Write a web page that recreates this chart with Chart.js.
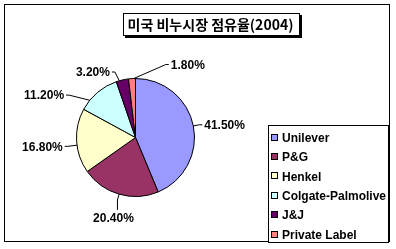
<!DOCTYPE html>
<html>
<head>
<meta charset="utf-8">
<script src="https://cdn.jsdelivr.net/npm/chart.js@4.4.1/dist/chart.umd.min.js"></script>
<style>
html,body{margin:0;padding:0;background:#fff;}
#wrap{position:relative;width:396px;height:249px;}
canvas{display:block;}
</style>
</head>
<body>
<div id="wrap"><canvas id="c" width="396" height="249"></canvas></div>
<script>
// ---- data ----
const chartTitle = '미국 비누시장 점유율(2004)';
const categories = ['Unilever', 'P&G', 'Henkel', 'Colgate-Palmolive', 'J&J', 'Private Label'];
const shares = [41.5, 20.4, 16.8, 11.2, 3.2, 1.8];
const sliceColors = ['#9999FF', '#993366', '#FFFFCC', '#CCFFFF', '#660066', '#FF8080'];

const LABEL_FONT = 'bold 12px "Liberation Sans", Arial, sans-serif';
const LEGEND_FONT = 'bold 12px "Liberation Sans", Arial, sans-serif';
const TITLE_FONT = 'bold 14px "Noto Sans CJK KR", sans-serif';

const decor = {
  id: 'decor',
  beforeDraw(chart) {
    const ctx = chart.ctx;
    ctx.save();
    ctx.fillStyle = '#fff';
    ctx.fillRect(0, 0, chart.width, chart.height);
    ctx.strokeStyle = '#000';
    ctx.lineWidth = 1;
    ctx.strokeRect(4.5, 4.5, 385, 237);
    ctx.restore();
  },
  afterDraw(chart) {
    const ctx = chart.ctx;
    ctx.save();
    // title with boxed shadow
    ctx.font = TITLE_FONT;
    const tw = ctx.measureText(chartTitle).width;
    const tcx = 210.5, tcy = 24;
    const bx = Math.round(tcx - tw / 2 - 5), by = 13, bw = Math.round(tw + 10), bh = 22;
    ctx.fillStyle = '#000';
    ctx.fillRect(bx + 2, by + 2, bw + 1, bh + 1);
    ctx.fillStyle = '#fff';
    ctx.fillRect(bx, by, bw, bh);
    ctx.strokeStyle = '#000';
    ctx.lineWidth = 1;
    ctx.strokeRect(bx + 0.5, by + 0.5, bw, bh);
    ctx.fillStyle = '#000';
    ctx.textAlign = 'center';
    ctx.textBaseline = 'middle';
    ctx.fillText(chartTitle, tcx, tcy + 1);

    // legend
    const lx = 268, ly = 125, lw = 120, lh = 117;
    ctx.fillStyle = '#fff';
    ctx.fillRect(lx, ly, lw, lh);
    ctx.strokeRect(lx + 0.5, ly + 0.5, lw, lh);
    ctx.font = LEGEND_FONT;
    ctx.textAlign = 'left';
    ctx.textBaseline = 'middle';
    const ds = chart.data.datasets[0];
    chart.data.labels.forEach((lab, i) => {
      const y = 137.5 + i * 19.4;
      ctx.fillStyle = ds.backgroundColor[i];
      ctx.fillRect(271, Math.round(y) - 4, 7, 7);
      ctx.strokeStyle = '#000';
      ctx.strokeRect(271.5, Math.round(y) - 3.5, 6, 6);
      ctx.fillStyle = '#000';
      ctx.fillText(lab, 282, y + 1);
    });

    // data labels with leader lines, derived from arc geometry
    const meta = chart.getDatasetMeta(0);
    const items = meta.data.map((arc, i) => {
      const p = arc.getProps(['x', 'y', 'startAngle', 'endAngle', 'outerRadius'], true);
      const mid = (p.startAngle + p.endAngle) / 2;
      return { i, cx: p.x, cy: p.y, s: p.startAngle, e: p.endAngle, r: p.outerRadius, mid, ang: mid };
    });
    const G = 40 * Math.PI / 180;
    const n = items.length;
    for (let it = 0; it < 300; it++) {
      for (let k = 0; k < n; k++) {
        const a = items[k], b = items[(k + 1) % n];
        let d = b.ang - a.ang;
        if (k === n - 1) d += 2 * Math.PI;
        if (d < G) {
          const push = (G - d) / 2;
          a.ang -= push; b.ang += push;
        }
      }
    }
    ctx.font = LABEL_FONT;
    ctx.strokeStyle = '#000';
    ctx.fillStyle = '#000';
    items.forEach(o => {
      const shiftDeg = Math.abs(o.ang - o.mid) * 180 / Math.PI;
      const L = Math.min(6 + 0.8 * shiftDeg, 20);
      const span = o.e - o.s;
      const inset = span * 0.25;
      const ea = Math.min(Math.max(o.ang, o.s + inset), o.e - inset);
      const ex = o.cx + o.r * Math.cos(ea), ey = o.cy + o.r * Math.sin(ea);
      const ax = o.cx + (o.r + L) * Math.cos(o.ang), ay = o.cy + (o.r + L) * Math.sin(o.ang);
      const txt = (ds.data[o.i]).toFixed(2) + '%';
      ctx.beginPath();
      ctx.moveTo(ex, ey);
      ctx.lineTo(ax, ay);
      if (Math.sin(o.ang) > 0.85) {
        ctx.lineTo(ax, ay + 10);
        ctx.stroke();
        ctx.textAlign = 'center';
        ctx.textBaseline = 'top';
        ctx.fillText(txt, ax - 4, ay + 13);
      } else if (Math.cos(o.ang) >= 0) {
        ctx.lineTo(ax + 3, ay);
        ctx.stroke();
        ctx.textAlign = 'left';
        ctx.textBaseline = 'middle';
        ctx.fillText(txt, ax + 5, ay + 1);
      } else {
        ctx.lineTo(ax - 3, ay);
        ctx.stroke();
        ctx.textAlign = 'right';
        ctx.textBaseline = 'middle';
        ctx.fillText(txt, ax - 5, ay + 1);
      }
    });
    ctx.restore();
  }
};

new Chart(document.getElementById('c'), {
  type: 'pie',
  data: {
    labels: categories,
    datasets: [{
      data: shares,
      backgroundColor: sliceColors,
      borderColor: '#000',
      borderWidth: 1
    }]
  },
  options: {
    responsive: false,
    devicePixelRatio: 1,
    animation: false,
    layout: { padding: { left: 76, right: 201, top: 78, bottom: 52 } },
    plugins: {
      legend: { display: false },
      title: { display: false },
      tooltip: { enabled: false }
    }
  },
  plugins: [decor]
});
</script>
</body>
</html>
